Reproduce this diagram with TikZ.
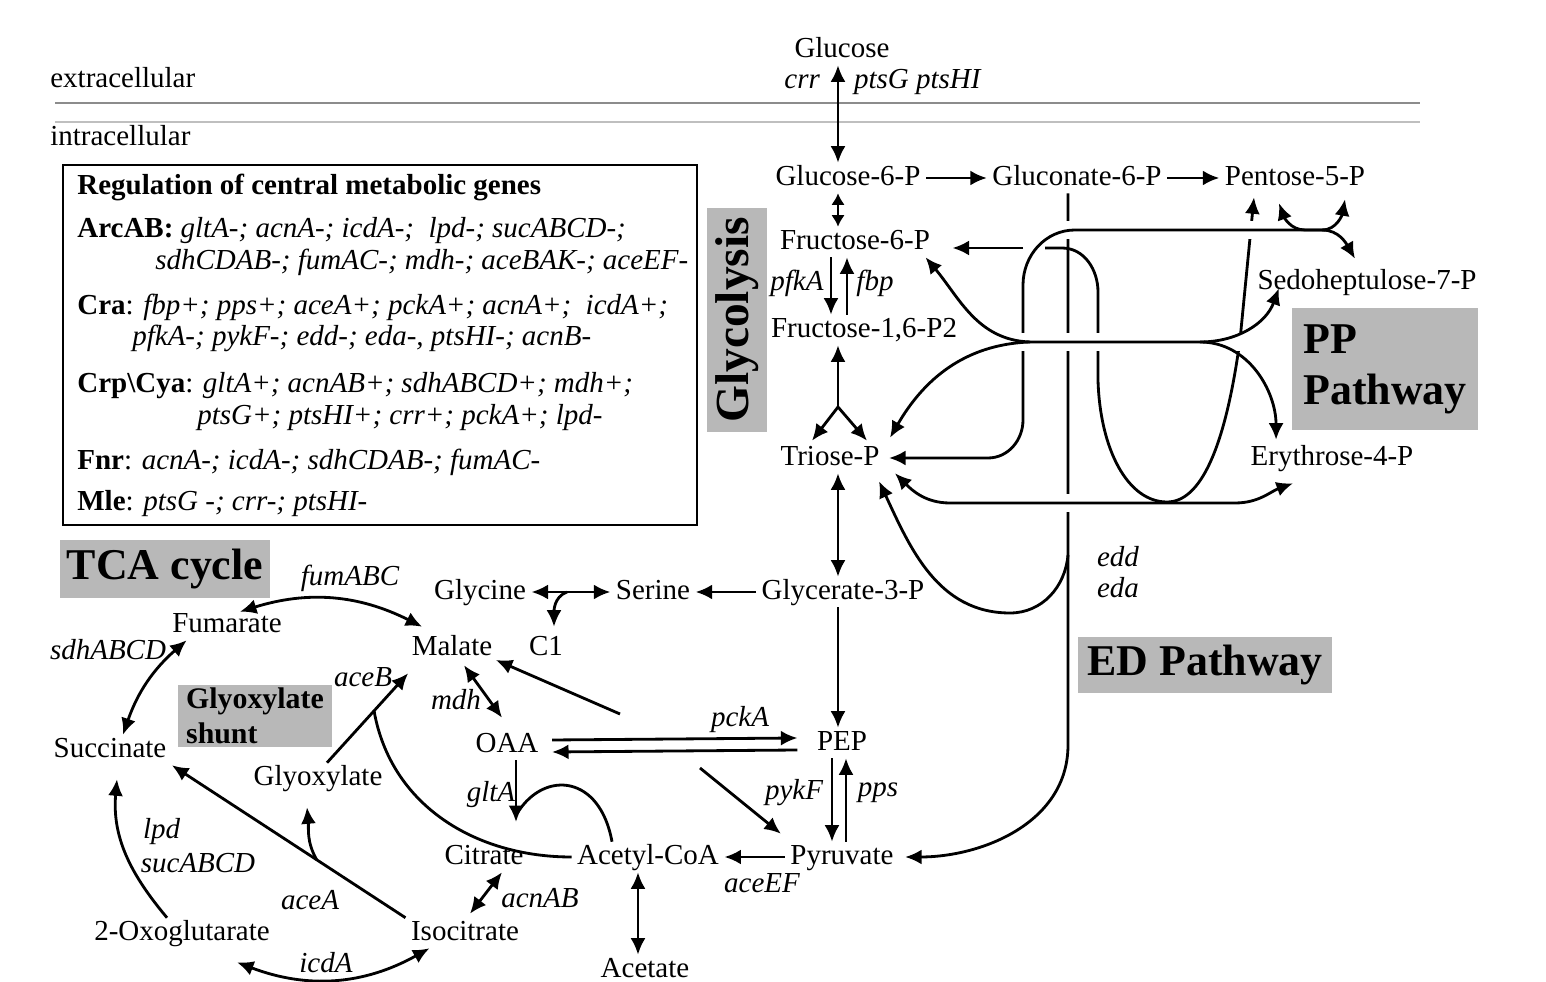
\documentclass[tikz,border=0pt]{standalone}
\usepackage{fontspec}
\setmainfont{Liberation Serif}
\usetikzlibrary{arrows.meta,calc}

\newcommand\metfont{\fontsize{16.5}{19}\selectfont}
\newcommand\tagfont{\bfseries\fontsize{25}{29}\selectfont}

\tikzset{
  met/.style={font=\metfont, inner xsep=3pt, inner ysep=1pt, text height=11.5pt, text depth=3.5pt},
  gene/.style={font=\metfont\itshape, inner sep=1pt},
  reg/.style={font=\metfont, anchor=west, inner sep=0pt, text height=11.5pt, text depth=3.5pt},
  rxn/.style={line width=1.6pt, -{Latex[length=3.3mm,width=3mm]}},
  rev/.style={line width=1.6pt, {Latex[length=3.3mm,width=3mm]}-{Latex[length=3.3mm,width=3mm]}},
  shortrev/.style={line width=1.6pt, {Latex[length=2.3mm,width=2.7mm]}-{Latex[length=2.3mm,width=2.7mm]}},
  joint/.style={line width=1.6pt},
  knock/.style={draw=white, line width=10pt},
  tag/.style={fill=black!28, font=\tagfont, inner sep=0pt},
}

\begin{document}
\begin{tikzpicture}[x=0.02cm, y=-0.02cm]
            \useasboundingbox (0,0) rectangle (1546,982);

            % Membrane
            \draw[black!45, line width=1pt] (55,103) -- (1420,103);
            \draw[black!25, line width=0.8pt] (55,122) -- (1420,122);
            \node[reg] (extra) at (50,80) {extracellular};
            \node[reg] (intra) at (50,138) {intracellular};

            % Regulation box
            \draw[line width=1.5pt] (63,165) rectangle (697,525);
            \node[reg] (rg0) at (77,187) {\textbf{Regulation of central metabolic genes}};
            \node[reg] (rg1) at (77,230) {\textbf{ArcAB:} \textit{gltA-; acnA-; icdA-;\ \ lpd-; sucABCD-;}};
            \node[reg] (rg2) at (155,262) {\textit{sdhCDAB-; fumAC-; mdh-; aceBAK-; aceEF-}};
            \node[reg] (rg3) at (77,307) {\textbf{Cra}: \textit{fbp+; pps+; aceA+; pckA+; acnA+;\ \ icdA+;}};
            \node[reg] (rg4) at (132,338) {\textit{pfkA-; pykF-; edd-; eda-, ptsHI-; acnB-}};
            \node[reg] (rg5) at (77,385) {\textbf{Crp\textbackslash Cya}: \textit{gltA+; acnAB+; sdhABCD+; mdh+;}};
            \node[reg] (rg6) at (197,417) {\textit{ptsG+; ptsHI+; crr+; pckA+; lpd-}};
            \node[reg] (rg7) at (77,462) {\textbf{Fnr}: \textit{acnA-; icdA-; sdhCDAB-; fumAC-}};
            \node[reg] (rg8) at (77,503) {\textbf{Mle}: \textit{ptsG -; crr-; ptsHI-}};

            % Pathway tags
            \node[tag, rotate=90, minimum width=4.48cm, minimum height=1.2cm,
                  font=\bfseries\fontsize{27}{30}\selectfont] (glyco) at (737,320) {Glycolysis};
            \node[tag, minimum width=3.72cm, minimum height=2.44cm, align=left] (pp) at (1385,369) {PP\\Pathway};
            \node[tag, minimum width=4.2cm, minimum height=1.16cm] (tca) at (165,569) {TCA cycle};
            \node[tag, minimum width=3.08cm, minimum height=1.26cm, align=left,
                  font=\bfseries\fontsize{17}{20}\selectfont] (shunt) at (255,716) {Glyoxylate\\shunt};
            \node[tag, minimum width=5.1cm, minimum height=1.12cm] (edtag) at (1205,665) {ED Pathway};

            % Metabolites
            \node[met] (glc) at (842,50) {Glucose};
            \node[met] (g6p) at (848,178) {Glucose-6-P};
            \node[met] (gn6p) at (1077,178) {Gluconate-6-P};
            \node[met] (p5p) at (1295,178) {Pentose-5-P};
            \node[met] (f6p) at (855,242) {Fructose-6-P};
            \node[met] (f16p) at (864,330) {Fructose-1,6-P2};
            \node[met] (tri) at (830,458) {Triose-P};
            \node[met] (s7p) at (1367,282) {Sedoheptulose-7-P};
            \node[met] (e4p) at (1332,458) {Erythrose-4-P};
            \node[met] (g3p) at (843,592) {Glycerate-3-P};
            \node[met] (ser) at (653,592) {Serine};
            \node[met] (gly) at (480,592) {Glycine};
            \node[met] (c1) at (546,648) {C1};
            \node[met] (mal) at (452,648) {Malate};
            \node[met] (oaa) at (507,745) {OAA};
            \node[met] (pep) at (842,743) {PEP};
            \node[met] (fum) at (227,625) {Fumarate};
            \node[met] (suc) at (110,750) {Succinate};
            \node[met] (glx) at (318,778) {Glyoxylate};
            \node[met] (cit) at (484,857) {Citrate};
            \node[met] (acoa) at (648,857) {Acetyl-CoA};
            \node[met] (pyr) at (842,857) {Pyruvate};
            \node[met] (ace) at (645,970) {Acetate};
            \node[met] (icit) at (465,933) {Isocitrate};
            \node[met] (oxo) at (182,933) {2-Oxoglutarate};

            % Genes
            \node[gene, anchor=east] (crr) at (822,82) {crr};
            \node[gene, anchor=west] (pts) at (852,82) {ptsG ptsHI};
            \node[gene] (pfka) at (797,283) {pfkA};
            \node[gene] (fbpg) at (875,283) {fbp};
            \node[gene] (fumg) at (350,578) {fumABC};
            \node[gene] (sdhg) at (108,650) {sdhABCD};
            \node[gene] (aceb) at (363,677) {aceB};
            \node[gene] (mdhg) at (456,700) {mdh};
            \node[gene] (pcka) at (740,720) {pckA};
            \node[gene] (glta) at (491,795) {gltA};
            \node[gene] (pykf) at (794,793) {pykF};
            \node[gene] (ppsg) at (878,793) {pps};
            \node[gene] (acef) at (762,883) {aceEF};
            \node[gene] (acnab) at (540,898) {acnAB};
            \node[gene, anchor=west] (lpdg) at (141,832) {lpd};
            \node[gene] (sucg) at (198,863) {sucABCD};
            \node[gene] (acea) at (310,900) {aceA};
            \node[gene] (icda) at (326,963) {icdA};
            \node[gene] (eddg) at (1118,557) {edd};
            \node[gene] (edag) at (1118,588) {eda};

            % Glycolysis
            \coordinate (gx) at (838,0);
            \coordinate (pfk) at (831,0);
            \coordinate (fbp) at (847,0);
            \coordinate (fork) at (838,407);
            \draw[rev] (gx |- glc.south) -- (gx |- g6p.north);
            \draw[rxn] (g6p) -- (gn6p);
            \draw[rxn] (gn6p) -- (p5p);
            \draw[shortrev] (gx |- g6p.south) -- (gx |- f6p.north);
            \draw[rxn] (pfk |- f6p.south) -- (pfk |- f16p.north);
            \draw[rxn] (fbp |- f16p.north) -- (fbp |- f6p.south);
            \draw[rxn] (fork) -- (gx |- f16p.south);
            \draw[rxn] (fork) -- ($(tri.north)+(-18,-2)$);
            \draw[rxn] (fork) -- ($(tri.north)+(37,-2)$);
            \draw[rev] (gx |- tri.south) -- (gx |- g3p.north);
            \draw[rxn] (gx |- g3p.south) -- (gx |- pep.north);
            \draw[rxn] (g3p) -- (ser);
            \draw[rev] (gly) -- (ser);
            \coordinate (c1br) at ($(gly.east)!0.45!(ser.west)$);
            \draw[rxn] (c1br) to[out=200, in=90] ($(c1.north)+(8,-6)$);

            % PEP, pyruvate
            \draw[rxn] ($(oaa.east)+(8,-5)$) -- ($(pep.west)+(-14,-5)$);
            \draw[rxn] ($(pep.west)+(-14,7)$) -- ($(oaa.east)+(8,7)$);
            \coordinate (me1) at (620,714);
            \coordinate (me2) at (700,768);
            \draw[rxn] (me1) -- ($(mal.east)+(-2,12)$);
            \draw[rxn] (me2) -- ($(pyr.north west)+(-4,-8)$);
            \draw[rxn] ($(pep.south)+(-10,0)$) -- ($(pyr.north)+(-10,0)$);
            \draw[rxn] ($(pyr.north)+(4,0)$) -- ($(pep.south)+(4,0)$);
            \draw[rxn] (pyr) -- (acoa);
            \coordinate (acx) at (638,0);
            \draw[rev] (acx |- acoa.south) -- (acx |- ace.north);

            % TCA cycle
            \coordinate (citin) at (516,822);
            \draw[rxn] (oaa.south -| citin) -- (citin);
            \draw[joint] ($(acoa.north)+(-36,0)$) .. controls (600,775) and (545,770) .. ($(citin)+(2,-10)$);
            \draw[rev] ($(cit.south)+(18,0)$) -- ($(icit.north)+(5,-4)$);
            \draw[rev] ($(oxo.south)+(55,14)$) to[bend right=25] ($(icit.south west)+(24,0)$);
            \draw[rxn] ($(oxo.north)+(-15,0)$) to[out=130, in=-95] ($(suc.south)+(7,14)$);
            \draw[rxn] (icit.north west) -- (suc.south east);
            \coordinate (acebr) at ($(icit.north west)!0.38!(suc.south east)$);
            \draw[rxn] (acebr) to[out=120, in=-85] ($(glx.south)+(-11,14)$);
            \coordinate (glxo) at ($(glx.north)+(9,0)$);
            \coordinate (malin) at ($(mal.south west)+(2,10)$);
            \draw[rxn] (glxo) -- (malin);
            \coordinate (acbj) at ($(glxo)!0.58!(malin)$);
            \draw[joint] (acoa.west) to[out=180, in=-80] (acbj);
            \draw[rev] ($(fum.north)+(13,2)$) to[bend left=22] ($(mal.north west)+(16,-6)$);
            \draw[rev] ($(suc.north)+(13,0)$) to[bend left=15] ($(fum.south west)+(20,0)$);
            \draw[rev] ($(mal.south)+(12,2)$) -- ($(oaa.north)+(-5,-12)$);

            % ED pathway
            \coordinate (edx) at (1068,0);
            \draw[rxn] (edx |- gn6p.south) -- (1068,745) to[out=-90, in=0] ($(pyr.east)+(6,0)$);
            \draw[rxn] (1068,555) to[out=-95, in=0] (1010,613) to[out=180, in=-65] ($(tri.south east)+(-6,8)$);

            % PP pathway
            \draw[rxn] (1023,248) -- ($(f6p.east)+(17,6)$);
            \draw[rxn] (1045,248) -- (1062,248) to[out=0, in=90] (1098,292) -- (1098,380)
                .. controls (1100,450) and (1128,502) .. (1167,502)
                .. controls (1200,502) and (1225,450) .. (1240,340) -- ($(p5p.south)+(-41,4)$);
            \draw[knock] (1050,230) -- (1262,230);
            \draw[rxn] (1330,230) -- (1075,230) to[out=180, in=90] (1023,285) -- (1023,420)
                to[out=-90, in=0] (988,458) -- ($(tri.east)+(4,0)$);
            \draw[rev] ($(p5p.south)+(-16,10)$) to[out=-70, in=180] (1305,230) -- (1322,230)
                to[out=0, in=-100] ($(p5p.south)+(50,6)$);
            \draw[rxn] (1322,230) to[out=0, in=120] ($(s7p.north)+(-12,-8)$);
            \draw[knock] (1012,342) -- (1250,342);
            \draw[rxn] (1030,342) -- (1200,342) to[out=0, in=-110] ($(s7p.south west)+(27,-9)$);
            \draw[rxn] (1200,342) to[out=0, in=90] ($(e4p.north west)+(31,-3)$);
            \draw[rxn] (1030,342) to[out=178, in=-50] ($(f6p.south east)+(-10,0)$);
            \draw[rxn] (1030,342) to[out=182, in=60] ($(tri.north east)+(5,-5)$);
            \draw[knock] (1058,503) -- (1078,503);
            \draw[rev] ($(tri.south east)+(10,0)$) to[out=-45, in=180] (950,503) -- (1235,503)
                to[out=0, in=200] ($(e4p.south)+(-39,10)$);

        \end{tikzpicture}
\end{document}
